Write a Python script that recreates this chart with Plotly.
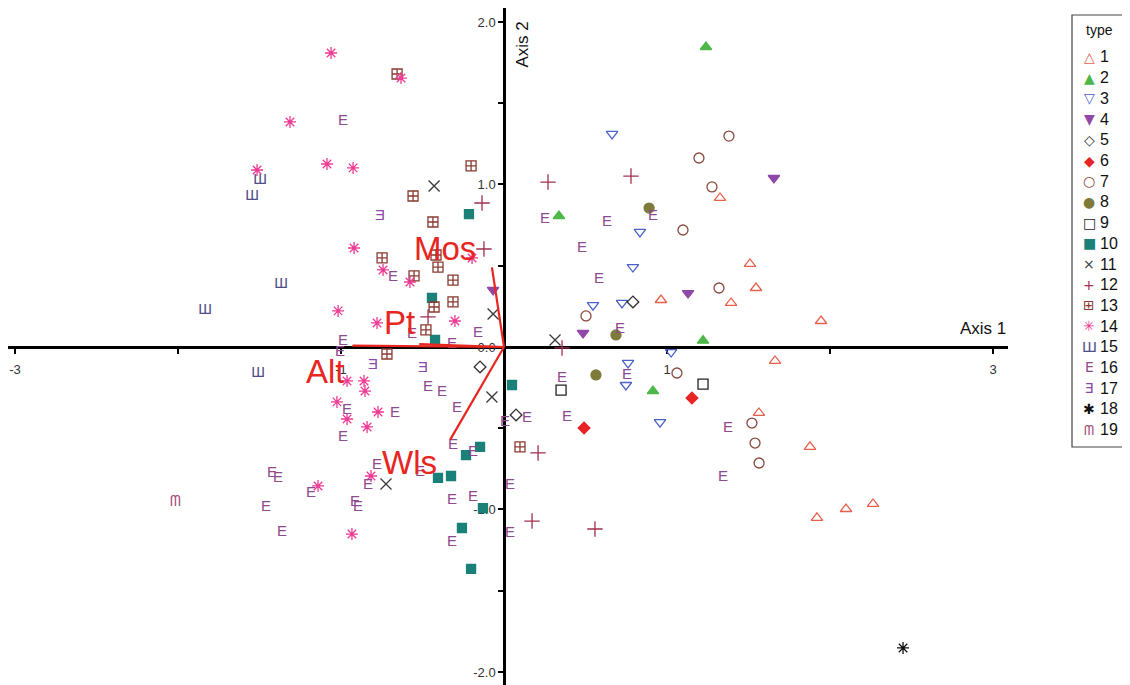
import plotly.graph_objects as go

# ---------------- data (NMS scores by type) ----------------
x1 = [1.325, 1.509, 1.546, 1.393, 0.963, 1.945, 1.663, 1.564, 1.877, 1.920, 2.098, 2.264]
y1 = [0.917, 0.511, 0.363, 0.271, 0.289, 0.160, -0.086, -0.406, -0.615, -1.052, -0.997, -0.966]
x2 = [1.239, 0.337, 1.221, 0.914]
y2 = [1.846, 0.806, 0.039, -0.271]
x3 = [0.663, 0.834, 0.791, 0.546, 0.724, 1.025, 0.761, 0.748, 0.957]
y3 = [1.311, 0.708, 0.492, 0.258, 0.271, -0.031, -0.098, -0.234, -0.462]
x4 = [1.129, 0.485, 1.656, -0.067]
y4 = [0.332, 0.086, 1.040, 0.351]
x5 = [0.791, -0.147, 0.074]
y5 = [0.277, -0.123, -0.418]
x6 = [1.153, 0.491]
y6 = [-0.314, -0.498]
x7 = [1.380, 1.196, 1.276, 1.098, 1.319, 0.503, 1.061, 1.521, 1.540, 1.565]
y7 = [1.298, 1.163, 0.985, 0.720, 0.363, 0.191, -0.160, -0.468, -0.591, -0.714]
x8 = [0.890, 0.687, 0.564]
y8 = [0.855, 0.074, -0.172]
x9 = [0.350, 1.221]
y9 = [-0.265, -0.228]
x10 = [-0.215, -0.442, -0.423, 0.049, -0.147, -0.233, -0.325, -0.405, -0.129, -0.258, -0.202]
y10 = [0.818, 0.302, 0.043, -0.234, -0.615, -0.665, -0.794, -0.806, -0.991, -1.114, -1.366]
x11 = [-0.429, -0.067, 0.313, -0.074, -0.724]
y11 = [0.991, 0.203, 0.043, -0.308, -0.843]
x12 = [0.270, 0.779, 0.356, -0.135, -0.123, -0.466, 0.209, 0.172, 0.558]
y12 = [1.015, 1.052, -0.006, 0.886, 0.603, 0.185, -0.652, -1.071, -1.120]
x13 = [-0.656, -0.202, -0.558, -0.436, -0.748, -0.552, -0.417, -0.405, -0.313, -0.313, -0.429, -0.479, -0.718, 0.098]
y13 = [1.680, 1.114, 0.929, 0.769, 0.548, 0.437, 0.566, 0.492, 0.412, 0.277, 0.246, 0.105, -0.043, -0.615]
x14 = [-1.061, -1.313, -1.086, -1.515, -0.926, -0.632, -0.920, -0.742, -0.577, -0.779, -1.018, -0.301,
       -0.963, -0.859, -0.853, -1.025, -0.773, -0.963, -0.840, -0.816, -1.141, -0.933, -0.196]
y14 = [1.809, 1.385, 1.126, 1.089, 1.102, 1.655, 0.609, 0.474, 0.400, 0.148, 0.222, 0.160,
       -0.209, -0.209, -0.271, -0.338, -0.400, -0.443, -0.492, -0.794, -0.855, -1.151, 0.548]
x15 = [-1.497, -1.546, -1.368, -1.834, -1.509]
y15 = [1.028, 0.929, 0.388, 0.228, -0.160]
x16 = [-0.988, -0.681, -0.564, -0.160, -0.319, -0.988, -1.006, -0.963, -0.988, -1.423, -1.387, -1.184,
       -1.460, -1.362, -0.466, -0.380, -0.288, -0.669, 0.006, -0.313, -0.190, -0.779, -0.515, -0.834,
       -0.914, -0.896, -0.319, -0.190, 0.037, -0.319, 0.037, 0.356, 0.755, 0.141, 0.387, 1.374, 1.344,
       0.252, 0.632, 0.914, 0.479, 0.583, 0.712]
y16 = [1.391, 0.431, 0.080, 0.086, 0.018, 0.037, -0.031, -0.388, -0.554, -0.775, -0.806, -0.898,
       -0.985, -1.138, -0.246, -0.277, -0.375, -0.406, -0.462, -0.603, -0.646, -0.726, -0.769, -0.849,
       -0.954, -0.985, -0.942, -0.923, -0.849, -1.200, -1.145, -0.191, -0.172, -0.437, -0.431, -0.498, -0.800,
       0.788, 0.769, 0.806, 0.609, 0.418, 0.111]
x17 = [-0.761, -0.804, -0.497]
y17 = [0.806, -0.111, -0.129]
x18 = [2.448]
y18 = [-1.852]
x19 = [-2.018]
y19 = [-0.954]

types = [str(i) for i in range(1, 20)]
vec_names = ["Mos", "Pt", "Alt", "Wls"]
vec_x = [-0.074, -0.52, -0.93, -0.33]
vec_y = [0.49, 0.018, 0.008, -0.57]

# ---------------- styles ----------------
FONT = "Liberation Sans, Arial, sans-serif"
colors = ['#e8604c', '#4db848', '#4a62c8', '#9047a8', '#333333', '#e82424', '#8a4a3c', '#7d7a3a',
          '#222222', '#1a8078', '#3a3a3a', '#a0304e', '#8a3a30', '#ee3a94', '#4e4e86', '#8e4a8e',
          '#8a4aa8', '#111111', '#a04a7c']
symbols = ['triangle-up-open', 'triangle-up', 'triangle-down-open', 'triangle-down', 'diamond-open',
           'diamond', 'circle-open', 'circle', 'square-open', 'square', 'x-thin-open', 'cross-thin-open',
           'square-cross-open', 'asterisk-open', None, None, None, 'asterisk-open', None]
sizes = [10, 10, 10, 10, 9, 9, 10, 10, 10, 9, 11, 11, 10, 10, 0, 0, 0, 10, 0]
glyphs = {15: 'Ш', 16: 'E', 17: 'Ǝ', 19: 'ᗰ'}
legend_glyphs = ['△', '▲', '▽', '▼', '◇', '◆', '○', '●', '□', '■', '×', '+', '⊞', '✳', 'Ш', 'E', 'Ǝ', '✱', 'ᗰ']

xs = [x1, x2, x3, x4, x5, x6, x7, x8, x9, x10, x11, x12, x13, x14, x15, x16, x17, x18, x19]
ys = [y1, y2, y3, y4, y5, y6, y7, y8, y9, y10, y11, y12, y13, y14, y15, y16, y17, y18, y19]

fig = go.Figure()
for i, t in enumerate(types):
    n = i + 1
    if n in glyphs:
        fig.add_trace(go.Scatter(
            x=xs[i], y=ys[i], mode='text', name=t,
            text=[glyphs[n]] * len(xs[i]), textposition='middle center',
            textfont=dict(family=FONT, size=15, color=colors[i])))
    else:
        fig.add_trace(go.Scatter(
            x=xs[i], y=ys[i], mode='markers', name=t,
            marker=dict(symbol=symbols[i], size=sizes[i], color=colors[i],
                        line=dict(width=1.3, color=colors[i]))))

# vectors
vx, vy = [], []
for a, b in zip(vec_x, vec_y):
    vx += [0, a, None]
    vy += [0, b, None]
fig.add_trace(go.Scatter(x=vx, y=vy, mode='lines', line=dict(color='#e8251f', width=2.2), hoverinfo='skip'))

label_shift = [(-47, 19), (-20, 22), (-27, -26), (-41, -23)]
for name, a, b, (dx, dy) in zip(vec_names, vec_x, vec_y, label_shift):
    fig.add_annotation(x=a, y=b, xref='x', yref='y', text=name, showarrow=False,
                       xshift=dx, yshift=dy, font=dict(family=FONT, size=33, color='#e8251f'))

# ---------------- axes ----------------
# the page body adds an 8px offset, so the figure is 8px smaller than the window
W, H = 1122, 677
xdom = [0, 1000 / W]
ydom = [0, 1]
xr = [-3.043, 3.092]
yr = [-2.080, 2.086]
xpos = xdom[0] + (0 - xr[0]) / (xr[1] - xr[0]) * (xdom[1] - xdom[0])
ypos = ydom[0] + (0 - yr[0]) / (yr[1] - yr[0]) * (ydom[1] - ydom[0])

tickfont = dict(family=FONT, size=13, color='#333')
fig.update_layout(
    width=W, height=H, margin=dict(l=0, r=0, t=0, b=0, autoexpand=False),
    paper_bgcolor='white', plot_bgcolor='white', showlegend=False,
    xaxis=dict(domain=xdom, range=xr, anchor='free', position=ypos, showgrid=False, zeroline=False,
               layer='below traces',
               showline=True, linecolor='black', linewidth=2.5, ticks='outside', ticklen=5, tickwidth=2,
               tickcolor='black', tickvals=[-3, -1, 1, 3], ticktext=['-3', '-1', '1', '3'],
               tickfont=tickfont, ticklabelstandoff=5,
               minor=dict(tickvals=[-2, 0, 2], ticks='outside', ticklen=5, tickwidth=2, tickcolor='black')),
    yaxis=dict(domain=ydom, range=yr, anchor='free', position=xpos, showgrid=False, zeroline=False,
               layer='below traces',
               showline=True, linecolor='black', linewidth=2.5, ticks='outside', ticklen=5, tickwidth=2,
               tickcolor='black', tickvals=[-2, -1, 0, 1, 2], ticktext=['-2.0', '-1.0', '0.0', '1.0', '2.0'],
               tickfont=tickfont, ticklabelstandoff=0,
               minor=dict(tickvals=[-1.5, -0.5, 0.5, 1.5], ticks='outside', ticklen=5, tickwidth=2,
                          tickcolor='black')),
)

fig.add_annotation(x=xr[1], y=0, xref='x', yref='y', text='Axis 1', showarrow=False, xanchor='right',
                   yanchor='bottom', yshift=7, font=dict(family=FONT, size=17, color='#111'))
fig.add_annotation(x=0, y=yr[1], xref='x', yref='y', text='Axis 2', showarrow=False, textangle=-90,
                   xanchor='left', yanchor='top', xshift=6, yshift=-12,
                   font=dict(family=FONT, size=17, color='#111'))

# ---------------- legend (drawn box) ----------------
fig.add_shape(type='rect', xref='paper', yref='paper', x0=1064 / W, x1=1119 / W,
              y0=1 - 439 / H, y1=1 - 7 / H, line=dict(color='#444', width=1.2), fillcolor='white')
fig.add_annotation(xref='paper', yref='paper', x=1091 / W, y=1 - 22 / H, text='type', showarrow=False,
                   xanchor='center', yanchor='middle', font=dict(family=FONT, size=14, color='#111'))
for i, t in enumerate(types):
    yy = 1 - (49 + i * 20.7) / H
    fig.add_annotation(xref='paper', yref='paper', x=1081 / W, y=yy, text=legend_glyphs[i], showarrow=False,
                       xanchor='center', yanchor='middle',
                       font=dict(family='DejaVu Sans', size=14, color=colors[i]))
    fig.add_annotation(xref='paper', yref='paper', x=1090 / W, y=yy, text=t, showarrow=False,
                       xanchor='left', yanchor='middle', font=dict(family=FONT, size=16, color='#111'))

fig.write_html("out.html")
